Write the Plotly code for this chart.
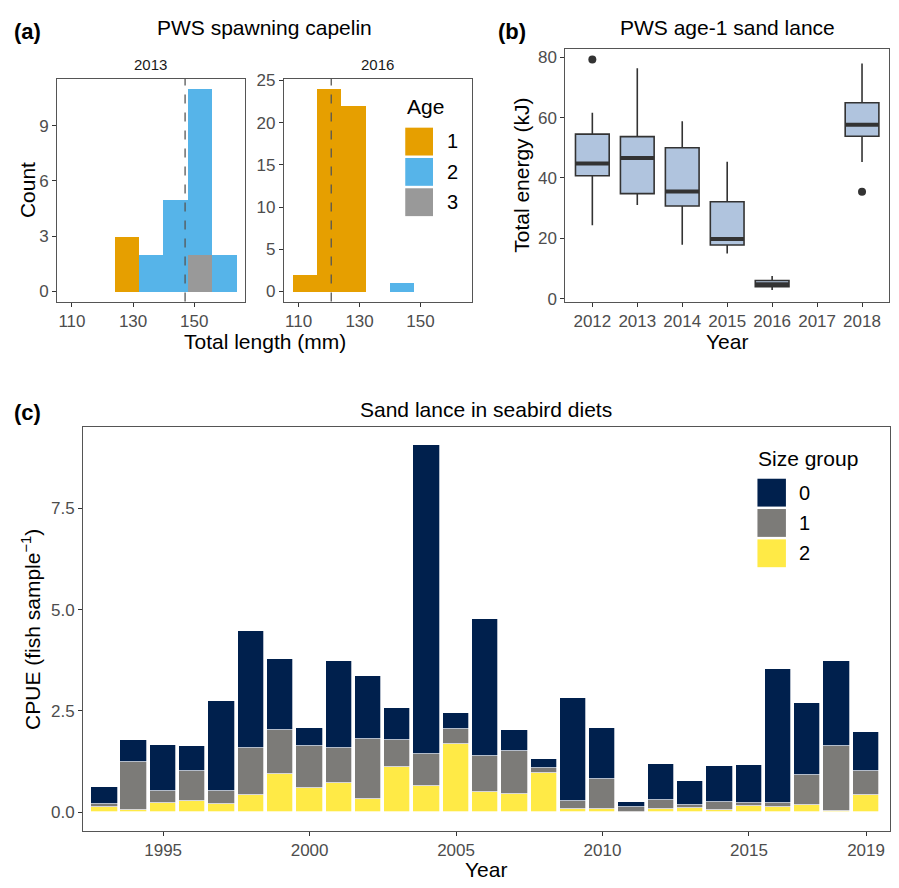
import plotly.graph_objects as go

OFF = 8                      # default page body margin
W, H = 899 - 2 * OFF, 888 - 2 * OFF
FONT = "Liberation Sans, Arial, sans-serif"
TICKC = "#4D4D4D"
AXC = "#333333"

# ---------------- data ----------------
# (a) PWS spawning capelin: histogram counts (binwidth 8 mm)
bin_width = 8
bins_2013 = [124, 132, 140, 148, 156]
age1_2013 = [3, 0, 0, 0, 0]
age2_2013 = [0, 2, 5, 9, 2]
age3_2013 = [0, 0, 0, 2, 0]
bins_2016 = [108, 116, 124, 132, 140]
age1_2016 = [2, 24, 22, 0, 0]
age2_2016 = [0, 0, 0, 0, 1]
age3_2016 = [0, 0, 0, 0, 0]
mean_length = [147.0, 120.7]   # 2013, 2016 dashed lines
age_labels = ["1", "2", "3"]
age_colors = ["#E69F00", "#56B4E9", "#999999"]

# (b) PWS age-1 sand lance total energy
box_years = ["2012", "2013", "2014", "2015", "2016", "2017", "2018"]
box_idx = [0, 1, 2, 3, 4, 6]
box_low = [24.3, 31.0, 17.9, 15.0, 2.9, 45.3]
box_q1 = [40.7, 34.8, 30.7, 17.8, 4.0, 53.8]
box_med = [44.8, 46.6, 35.5, 19.8, 4.8, 57.6]
box_q3 = [54.5, 53.7, 50.0, 32.1, 6.0, 64.9]
box_high = [61.6, 76.3, 58.8, 45.4, 7.5, 77.9]
outlier_idx = [0, 6]
outlier_val = [79.2, 35.4]

# (c) Sand lance CPUE in seabird diets by size group
years_c = list(range(1993, 2020))
size0 = [0.42, 0.54, 1.15, 0.62, 2.22, 2.89, 1.74, 0.44, 2.15, 1.54, 0.80, 7.62, 0.39, 3.40,
         0.51, 0.23, 2.55, 1.27, 0.115, 0.88, 0.59, 0.90, 0.94, 3.30, 1.78, 2.08, 0.95]
size1 = [0.07, 1.19, 0.28, 0.74, 0.32, 1.17, 1.09, 1.05, 0.86, 1.48, 0.67, 0.78, 0.37, 0.88,
         1.07, 0.12, 0.20, 0.73, 0.125, 0.22, 0.09, 0.20, 0.09, 0.10, 0.74, 1.61, 0.61]
size2 = [0.13, 0.06, 0.24, 0.28, 0.20, 0.42, 0.94, 0.60, 0.73, 0.34, 1.11, 0.66, 1.69, 0.50,
         0.45, 0.97, 0.08, 0.09, 0.02, 0.09, 0.10, 0.05, 0.15, 0.13, 0.19, 0.04, 0.42]
size_labels = ["0", "1", "2"]
size_colors = ["#00204D", "#7C7B78", "#FFEA46"]
xticks_c = [1995, 2000, 2005, 2010, 2015, 2019]

# ---------------- helpers (window px -> paper) ----------------
def fx(px):
    return (px - OFF) / W

def fy(py):
    return 1 - (py - OFF) / H

def dom(a, b):
    return [max(0.0, min(1.0, a)), max(0.0, min(1.0, b))]

fig = go.Figure()

# (a) histograms: stack gray(3) bottom, blue(2), orange(1) top
def add_hist(bins, counts_list, xa, ya):
    centers = [b + bin_width / 2 for b in bins]
    for lab, col, cnt in zip(age_labels[::-1], age_colors[::-1], counts_list[::-1]):
        fig.add_trace(go.Bar(x=centers, y=cnt, width=bin_width, marker=dict(color=col, line=dict(width=0)),
                             name=lab, showlegend=False, xaxis=xa, yaxis=ya))

add_hist(bins_2013, [age1_2013, age2_2013, age3_2013], "x", "y")
add_hist(bins_2016, [age1_2016, age2_2016, age3_2016], "x2", "y2")

for m, xr in zip(mean_length, ["x", "x2"]):
    fig.add_shape(type="line", xref=xr, yref=("y" if xr == "x" else "y2") + " domain",
                  x0=m, x1=m, y0=0, y1=1, line=dict(color="#555555", width=1.3, dash="dash"))

# (b) boxplots
fig.add_trace(go.Box(x=box_idx, q1=box_q1, median=box_med, q3=box_q3, lowerfence=box_low,
                     upperfence=box_high, width=0.75, fillcolor="#B0C4DE",
                     line=dict(color=AXC, width=1.6), boxpoints=False, showlegend=False,
                     xaxis="x3", yaxis="y3", whiskerwidth=0))
mx, my = [], []
for i, m in zip(box_idx, box_med):
    mx += [i - 0.375, i + 0.375, None]
    my += [m, m, None]
fig.add_trace(go.Scatter(x=mx, y=my, mode="lines", line=dict(color=AXC, width=4),
                         showlegend=False, xaxis="x3", yaxis="y3", hoverinfo="skip"))
fig.add_trace(go.Scatter(x=outlier_idx, y=outlier_val, mode="markers",
                         marker=dict(color=AXC, size=8), showlegend=False, xaxis="x3", yaxis="y3"))

# (c) stacked bars: size 2 bottom, 1, 0 top
for lab, col, vals in zip(size_labels[::-1], size_colors[::-1], [size2, size1, size0]):
    fig.add_trace(go.Bar(x=years_c, y=vals, width=0.9, name=lab,
                         marker=dict(color=col, line=dict(color="white", width=0.7)),
                         showlegend=False, xaxis="x4", yaxis="y4"))

# ---------------- axes ----------------
def axstyle(**kw):
    d = dict(showline=True, linecolor="#555555", linewidth=1.2, mirror=True, ticks="outside",
             ticklen=4, tickcolor=AXC, tickwidth=1.1, showgrid=False, zeroline=False,
             tickfont=dict(family=FONT, size=17, color=TICKC))
    d.update(kw)
    return d

yA = dom(fy(299.3), fy(72.7))
fig.update_layout(
    xaxis=axstyle(domain=dom(fx(57.3), fx(245.3)), range=[105.2, 166.6], tickvals=[110, 130, 150], anchor="y"),
    yaxis=axstyle(domain=yA, range=[-0.55, 11.55], tickvals=[0, 3, 6, 9], anchor="x"),
    xaxis2=axstyle(domain=dom(fx(284.3), fx(472.3)), range=[105.2, 166.8], tickvals=[110, 130, 150], anchor="y2"),
    yaxis2=axstyle(domain=yA, range=[-1.2, 25.2], tickvals=[0, 5, 10, 15, 20, 25], anchor="x2"),
    xaxis3=axstyle(domain=dom(fx(566), fx(890)), range=[-0.6, 6.6], tickvals=list(range(7)),
                   ticktext=box_years, anchor="y3"),
    yaxis3=axstyle(domain=dom(fy(299.3), fy(42.3)), range=[-0.98, 82.8], tickvals=[0, 20, 40, 60, 80], anchor="x3"),
    xaxis4=axstyle(domain=dom(fx(83.3), fx(890.5)), range=[1992.27, 2019.8], tickvals=xticks_c, anchor="y4"),
    yaxis4=axstyle(domain=dom(fy(837), fy(426.7)), range=[-0.45, 9.5], tickvals=[0, 2.5, 5, 7.5],
                   tickformat=".1f", anchor="x4"),
    barmode="stack", bargap=0,
    width=W, height=H, margin=dict(l=0, r=0, t=0, b=0),
    paper_bgcolor="white", plot_bgcolor="white",
    font=dict(family=FONT, color="black"),
)

# ---------------- text ----------------
ann = []
def text(s, x, y, size, xanchor="center", yanchor="middle", angle=0, bold=False, color="black"):
    ann.append(dict(text=("<b>%s</b>" % s) if bold else s, x=fx(x), y=fy(y), xref="paper", yref="paper",
                    showarrow=False, xanchor=xanchor, yanchor=yanchor, textangle=angle,
                    font=dict(family=FONT, size=size, color=color)))

text("(a)", 12, 25, 22, xanchor="left", bold=True)
text("(b)", 497, 25, 22, xanchor="left", bold=True)
text("(c)", 12, 412, 22, xanchor="left", bold=True)
text("PWS spawning capelin", 265, 21, 21)
text("PWS age-1 sand lance", 728, 21, 21)
text("Sand lance in seabird diets", 487, 409, 21)
text("2013", 151, 58, 15, color="#1A1A1A")
text("2016", 378, 58, 15, color="#1A1A1A")
text("Count", 27, 186, 21, angle=-90)
text("Total length (mm)", 265, 340, 21)
text("Total energy (kJ)", 522, 171, 21, angle=-90)
text("Year", 728, 340, 21)
text("CPUE (fish sample<sup>−1</sup>)", 31, 632, 21, angle=-90)
text("Year", 487, 876, 21)

# legend (a)
text("Age", 405.7, 101, 21, xanchor="left")
shapes = []
for i, (lab, col) in enumerate(zip(age_labels, age_colors)):
    y0 = 122.5 + i * 30.8
    shapes.append(dict(type="rect", xref="paper", yref="paper", x0=fx(405.7), x1=fx(433.5),
                       y0=fy(y0 + 28.3), y1=fy(y0), fillcolor=col, line=dict(width=0)))
    text(lab, 445, y0 + 14, 20, xanchor="left")
# legend (c)
text("Size group", 757, 459, 21, xanchor="left")
for i, (lab, col) in enumerate(zip(size_labels, size_colors)):
    y0 = 479.3 + i * 30.8
    shapes.append(dict(type="rect", xref="paper", yref="paper", x0=fx(758.3), x1=fx(786.8),
                       y0=fy(y0 + 28.3), y1=fy(y0), fillcolor=col, line=dict(width=0)))
    text(lab, 798, y0 + 14, 20, xanchor="left")

fig.update_layout(annotations=ann)
for s in shapes:
    fig.add_shape(**s)

fig.write_html("out.html")
